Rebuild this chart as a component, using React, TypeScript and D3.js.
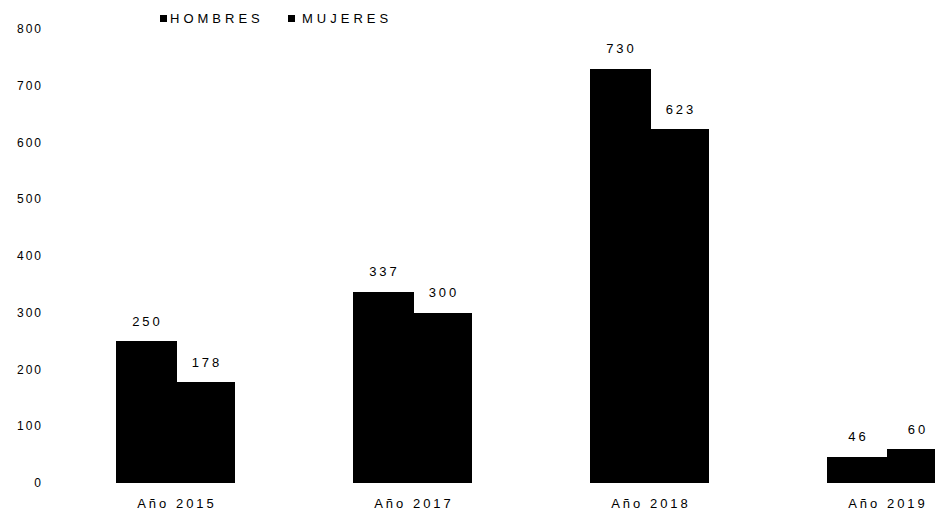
import * as d3 from 'd3';

const categories = ['Año 2015', 'Año 2017', 'Año 2018', 'Año 2019'];
const series = ['HOMBRES', 'MUJERES'];
const hombres = [250, 337, 730, 46];
const mujeres = [178, 300, 623, 60];
const yTicks = [0, 100, 200, 300, 400, 500, 600, 700, 800];

const width = 935;
const height = 515;
const font = '"Liberation Sans", Arial, sans-serif';

export default function App() {
  const x = d3.scaleBand<string>()
    .domain(categories)
    .range([57, 57 + 237 * 4])
    .paddingInner(0.5)
    .paddingOuter(0.25);
  const inner = d3.scaleBand<string>().domain(series).range([0, x.bandwidth()]);
  const y = d3.scaleLinear().domain([0, 800]).range([483, 29]);
  const values = [hombres, mujeres];

  return (
    <svg
      width={width}
      height={height}
      style={{ position: 'absolute', left: 0, top: 0, background: '#fff' }}
      fontFamily={font}
    >
      {/* y axis labels, no line */}
      {yTicks.map((t) => (
        <text key={t} x={43} y={y(t)} dy="0.35em" textAnchor="end" fontSize={12} letterSpacing={2} fill="#000">
          {t}
        </text>
      ))}

      {categories.map((c, i) => (
        <g key={c}>
          {series.map((s, j) => {
            const v = values[j][i];
            const bx = Math.round((x(c) ?? 0) + (inner(s) ?? 0));
            const bx2 = Math.round((x(c) ?? 0) + (inner(s) ?? 0) + inner.bandwidth());
            return (
              <g key={s}>
                <rect
                  x={bx}
                  y={Math.round(y(v))}
                  width={bx2 - bx + (j === 0 ? 1 : 0)}
                  height={Math.round(y(0)) - Math.round(y(v))}
                  fill="#000"
                  shapeRendering="crispEdges"
                />
                <text
                  x={(bx + bx2) / 2 + 1.5}
                  y={y(v) - 20}
                  dy="0.35em"
                  textAnchor="middle"
                  fontSize={13}
                  letterSpacing={3}
                  fill="#000"
                >
                  {v}
                </text>
              </g>
            );
          })}
          <text
            x={(x(c) ?? 0) + x.bandwidth() / 2 + 1.5}
            y={503}
            dy="0.35em"
            textAnchor="middle"
            fontSize={13}
            letterSpacing={3}
            fill="#000"
          >
            {c}
          </text>
        </g>
      ))}

      {/* legend */}
      <g transform="translate(160,18)">
        <rect x={0} y={-3} width={7} height={7} fill="#000" />
        <text x={10} y={0} dy="0.35em" fontSize={13} letterSpacing={4} fill="#000">{series[0]}</text>
        <rect x={128} y={-3} width={7} height={7} fill="#000" />
        <text x={142} y={0} dy="0.35em" fontSize={13} letterSpacing={4} fill="#000">{series[1]}</text>
      </g>
    </svg>
  );
}
